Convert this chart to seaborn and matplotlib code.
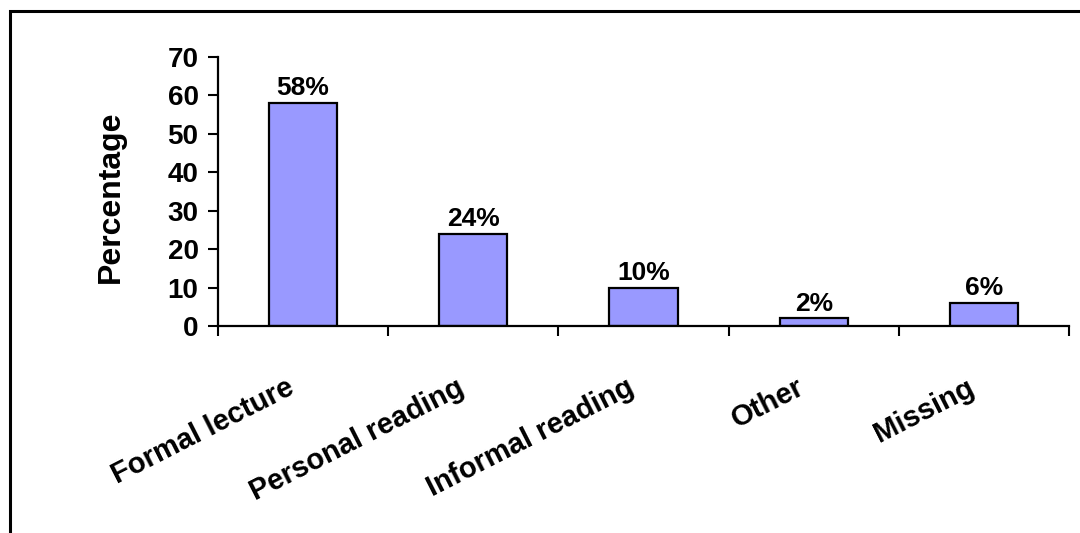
import matplotlib
matplotlib.use("Agg")
import matplotlib.pyplot as plt
import matplotlib.transforms as mtransforms
from matplotlib.patches import Rectangle
import seaborn as sns

categories = ["Formal lecture", "Personal reading", "Informal reading", "Other", "Missing"]
values = [58, 24, 10, 2, 6]
y_ticks = [0, 10, 20, 30, 40, 50, 60, 70]

sns.set_style("white", {"xtick.bottom": True, "ytick.left": True,
                        "text.color": "black", "axes.labelcolor": "black",
                        "xtick.color": "black", "ytick.color": "black",
                        "axes.edgecolor": "black"})
plt.rcParams["font.family"] = ["Liberation Sans", "DejaVu Sans"]
plt.rcParams["font.weight"] = "bold"

fig = plt.figure(figsize=(10.8, 5.33), dpi=100)
ax = fig.add_axes([218 / 1080, 1 - 326 / 533, (1069 - 218) / 1080, (326 - 57) / 533])

sns.barplot(x=categories, y=values, color="#9999FF", saturation=1,
            edgecolor="black", linewidth=1.6, width=0.4, ax=ax)

ax.set_xlim(-0.5, len(categories) - 0.5)
ax.set_ylim(0, 70)
ax.set_yticks(y_ticks)
ax.set_yticklabels([str(t) for t in y_ticks], fontsize=20, fontweight="bold", color="black")

# Category labels sit between boundary ticks
ax.set_xticks(range(len(categories)))
ax.set_xticklabels(categories, fontsize=21, fontweight="bold", color="black",
                   rotation=27, ha="right", va="center", rotation_mode="anchor")
ax.set_xticks([i - 0.5 for i in range(len(categories) + 1)], minor=True)
ax.tick_params(axis="x", which="major", length=0, pad=43)
ax.tick_params(axis="x", which="minor", bottom=True, length=7, width=1.5,
               direction="out", color="black")
ax.tick_params(axis="y", which="major", left=True, length=7, width=1.5,
               direction="out", color="black", pad=7)
shift = mtransforms.ScaledTranslation(-11 / 100, 0, fig.dpi_scale_trans)
for lab in ax.get_xticklabels():
    lab.set_transform(lab.get_transform() + shift)

for side in ["top", "right"]:
    ax.spines[side].set_visible(False)
for side in ["left", "bottom"]:
    ax.spines[side].set_color("black")
    ax.spines[side].set_linewidth(1.6)

ax.set_xlabel("")
ax.set_ylabel("Percentage", fontsize=23, fontweight="bold", color="black")
ax.yaxis.set_label_coords(-0.108, 0.48)

ax.bar_label(ax.containers[0], labels=[f"{v}%" for v in values],
             padding=2, fontsize=19, fontweight="bold", color="black")

# Outer frame around the chart area
fig.patches.append(Rectangle((10 / 1080, -0.1), 1.2, 1 - 11 / 533 + 0.1,
                             transform=fig.transFigure, fill=False,
                             edgecolor="black", linewidth=2.2, zorder=0))

fig.savefig("out.png", dpi=100, facecolor="white")
